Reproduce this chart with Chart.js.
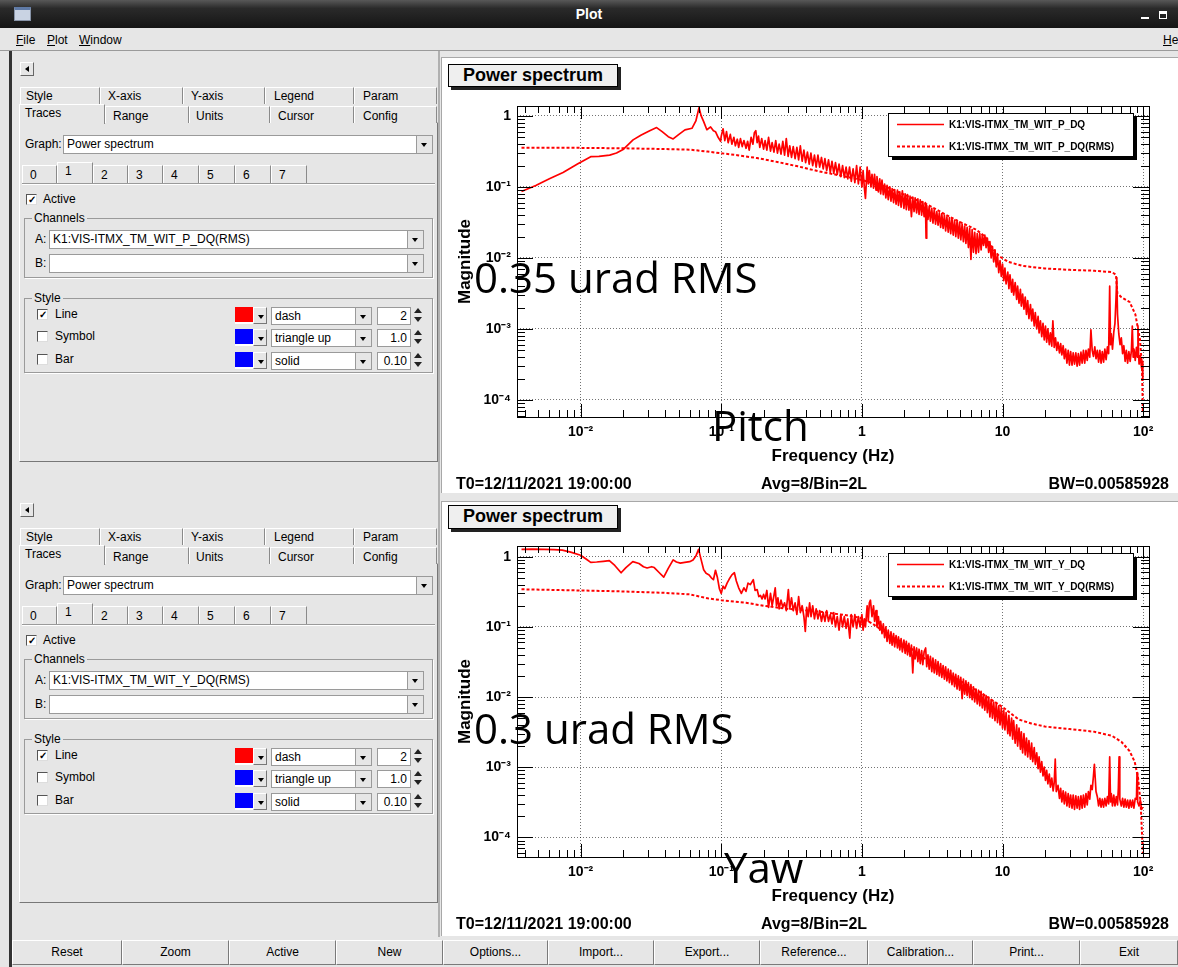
<!DOCTYPE html>
<html><head><meta charset="utf-8">
<script src="https://cdn.jsdelivr.net/npm/chart.js@4.4.0/dist/chart.umd.min.js"></script>
<style>
body{margin:0;width:1178px;height:967px;overflow:hidden;background:#e6e6e6;font-family:"Liberation Sans",Arial,sans-serif;font-size:12px;color:#000;position:relative}
.a{position:absolute;box-sizing:border-box;white-space:nowrap}
.titlebar{left:0;top:0;width:1178px;height:28px;background:linear-gradient(#585858,#2a2a2a 30%,#151515);color:#fff;font-weight:bold;font-size:14px;text-align:center;line-height:28px}
.menubar{left:0;top:28px;width:1178px;height:23px;border-bottom:1px solid #9a9a9a;line-height:24px}
.tab{height:18px;border-top:1px solid #fff;border-left:1px solid #fff;border-right:1px solid #8a8a8a;line-height:16px;background:#e6e6e6}
.combo{background:#fff;border:1px solid #9a9a9a;height:19px;line-height:17px;padding-left:3px}
.arr{position:absolute;right:0;top:0;width:15px;height:17px;background:#e6e6e6;border-left:1px solid #9a9a9a}
.arr::after{content:'';position:absolute;left:4px;top:7px;border-left:3px solid transparent;border-right:3px solid transparent;border-top:4px solid #000}
.cb{width:11px;height:11px;background:#fff;border:1px solid;border-color:#555 #ddd #ddd #555;font-size:10px;line-height:9px;text-align:center;font-weight:bold}
.grp{border:1px solid #9a9a9a;box-shadow:1px 1px 0 #fff}
.glab{background:#e6e6e6;padding:0 2px;line-height:12px}
.btn{top:940px;height:25px;border:1px solid;border-color:#fff #7a7a7a #7a7a7a #fff;text-align:center;line-height:23px;background:#e6e6e6}
.white{background:#fff;border-left:1px solid #a8a8a8;border-top:1px solid #a8a8a8}
.pave{background:#efefef;border:1px solid #000;box-shadow:3px 3px 0 #222;font-weight:bold;font-size:18px;line-height:21px;text-align:center}
.info{font-weight:bold;font-size:16px;line-height:18px}
.big{font-family:"Open Sans",sans-serif;font-size:42px;line-height:42px;z-index:5}
canvas{position:absolute}
</style></head>
<body>
<div class="a titlebar">Plot</div>
<div class="a" style="left:14px;top:7px;width:17px;height:14px;background:#c9d3e3;border:1px solid #8894a8;border-top:3px solid #5f7aa6"></div>
<div class="a" style="left:1141px;top:17px;width:8px;height:2px;background:#fff"></div>
<div class="a" style="left:1159px;top:11px;width:8px;height:8px;border:1px solid #fff;border-top:3px solid #fff"></div>
<div class="a menubar"><span class="a" style="left:16px"><u>F</u>ile</span><span class="a" style="left:47px"><u>P</u>lot</span><span class="a" style="left:79px"><u>W</u>indow</span><span class="a" style="left:1163px"><u>H</u>e</span></div>
<div class="a" style="left:9px;top:51px;width:3px;height:916px;background:#333"></div>
<div class="a" style="left:438px;top:51px;width:2px;height:886px;background:#b0b0b0"></div>

<div class="a white" style="left:441px;top:57px;width:737px;height:436px"></div>
<div class="a white" style="left:441px;top:501px;width:737px;height:435px"></div>
<div class="a pave" style="left:448px;top:64px;width:170px;height:23px">Power spectrum</div>
<div class="a pave" style="left:448px;top:505px;width:170px;height:24px">Power spectrum</div>

<canvas id="cP" width="736" height="430" style="left:442px;top:60px"></canvas>
<canvas id="cY" width="736" height="430" style="left:442px;top:500px"></canvas>

<div class="a info" style="left:456px;top:475px">T0=12/11/2021 19:00:00</div>
<div class="a info" style="left:761px;top:475px">Avg=8/Bin=2L</div>
<div class="a info" style="right:9px;top:475px">BW=0.00585928</div>
<div class="a info" style="left:456px;top:915px">T0=12/11/2021 19:00:00</div>
<div class="a info" style="left:761px;top:915px">Avg=8/Bin=2L</div>
<div class="a info" style="right:9px;top:915px">BW=0.00585928</div>

<div class="a big" style="left:474px;top:256px">0.35 urad RMS</div>
<div class="a big" style="left:712px;top:404px">Pitch</div>
<div class="a big" style="left:474px;top:707px">0.3 urad RMS</div>
<div class="a big" style="left:724px;top:846px">Yaw</div>

<div id="btns"></div>

<script>
// ---------------- data ----------------
const xTicks = [0.01, 0.1, 1, 10, 100];
const yTicks = [0.0001, 0.001, 0.01, 0.1, 1];
const xRange = [0.00353, 110];
const pitchYRange = [5.75e-5, 1.38];
const yawYRange = [5.25e-5, 1.42];
const pitchLabels = ['K1:VIS-ITMX_TM_WIT_P_DQ', 'K1:VIS-ITMX_TM_WIT_P_DQ(RMS)'];
const yawLabels = ['K1:VIS-ITMX_TM_WIT_Y_DQ', 'K1:VIS-ITMX_TM_WIT_Y_DQ(RMS)'];
const panelChannels = ['K1:VIS-ITMX_TM_WIT_P_DQ(RMS)', 'K1:VIS-ITMX_TM_WIT_Y_DQ(RMS)'];
const buttonLabels = ['Reset','Zoom','Active','New','Options...','Import...','Export...','Reference...','Calibration...','Print...','Exit'];

const pitchAsd = [
[0.0038,0.086],[0.0048,0.105],[0.006,0.13],[0.0075,0.16],[0.0095,0.21],[0.0118,0.267],[0.0135,0.27],[0.0161,0.28],[0.018,0.3],[0.0202,0.34],
[0.0236,0.46],[0.027,0.54],[0.031,0.62],[0.0347,0.685],[0.038,0.6],[0.042,0.51],[0.0455,0.474],[0.05,0.55],[0.0552,0.635],[0.0619,0.67],
[0.066,0.85],[0.0695,1.31],[0.072,1.0],[0.075,0.83],[0.079,0.64],[0.084,0.7],[0.088,0.62],[0.091,0.6],[0.095,0.5],[0.099,0.44],
[0.1,0.52],[0.103,0.66],[0.106,0.45],[0.109,0.6],[0.112,0.42],[0.116,0.55],[0.119,0.4],[0.123,0.5],[0.126,0.38],[0.13,0.47],
[0.133,0.36],[0.137,0.48],[0.141,0.37],[0.145,0.45],[0.15,0.35],[0.154,0.44],[0.158,0.33],[0.163,0.5],[0.168,0.4],[0.172,0.58],
[0.176,0.62],[0.18,0.42],[0.184,0.52],[0.188,0.36],[0.194,0.48],[0.2,0.34],[0.205,0.45],[0.211,0.33],[0.217,0.5],[0.224,0.32],
[0.23,0.42],[0.237,0.31],[0.244,0.45],[0.251,0.3],[0.258,0.4],[0.266,0.29],[0.274,0.44],[0.282,0.28],[0.29,0.48],[0.299,0.27],
[0.307,0.38],[0.316,0.26],[0.325,0.37],[0.335,0.25],[0.345,0.36],[0.355,0.24],[0.365,0.38],[0.376,0.23],[0.387,0.33],[0.398,0.22],
[0.41,0.31],[0.422,0.21],[0.434,0.3],[0.447,0.2],[0.46,0.28],[0.473,0.19],[0.487,0.28],[0.501,0.19],[0.516,0.26],[0.531,0.18],
[0.546,0.25],[0.562,0.17],[0.579,0.24],[0.596,0.16],[0.613,0.23],[0.631,0.155],[0.649,0.22],[0.668,0.15],[0.688,0.21],[0.708,0.14],
[0.729,0.2],[0.75,0.135],[0.772,0.19],[0.794,0.13],[0.817,0.19],[0.841,0.12],[0.866,0.18],[0.891,0.115],[0.917,0.2],[0.944,0.11],
[0.972,0.19],[1.0,0.1],[1.02,0.17],[1.04,0.1],[1.06,0.069],[1.09,0.19],[1.11,0.11],[1.13,0.17],[1.16,0.1],[1.18,0.15],
[1.21,0.096],[1.23,0.15],[1.26,0.09],[1.28,0.14],[1.31,0.085],[1.34,0.13],[1.36,0.08],[1.39,0.125],[1.42,0.078],[1.45,0.11],
[1.48,0.07],[1.51,0.105],[1.54,0.066],[1.58,0.1],[1.61,0.063],[1.64,0.095],[1.68,0.06],[1.71,0.092],[1.75,0.057],[1.79,0.09],
[1.82,0.055],[1.86,0.085],[1.9,0.052],[1.94,0.088],[1.99,0.05],[2.03,0.08],[2.07,0.048],[2.11,0.078],[2.16,0.047],[2.2,0.074],
[2.25,0.038],[2.3,0.072],[2.35,0.045],[2.39,0.07],[2.45,0.043],[2.5,0.068],[2.55,0.041],[2.6,0.066],[2.66,0.04],[2.71,0.062],
[2.77,0.038],[2.83,0.06],[2.86,0.019],[2.89,0.055],[2.95,0.035],[3.01,0.053],[3.07,0.033],[3.14,0.05],[3.2,0.031],[3.27,0.048],
[3.34,0.03],[3.41,0.045],[3.48,0.029],[3.55,0.043],[3.63,0.027],[3.7,0.042],[3.78,0.026],[3.86,0.04],[3.94,0.024],[4.02,0.038],
[4.11,0.023],[4.19,0.037],[4.28,0.022],[4.37,0.036],[4.46,0.021],[4.56,0.034],[4.65,0.02],[4.75,0.033],[4.85,0.019],[4.95,0.032],
[5.05,0.018],[5.16,0.03],[5.27,0.017],[5.38,0.028],[5.49,0.016],[5.6,0.027],[5.72,0.014],[5.84,0.026],[5.96,0.0095],[6.08,0.025],
[6.21,0.012],[6.34,0.023],[6.48,0.0115],[6.61,0.022],[6.75,0.012],[6.89,0.022],[7.04,0.013],[7.18,0.021],[7.33,0.015],[7.48,0.021],
[7.64,0.014],[7.8,0.019],[7.97,0.012],[8.13,0.017],[8.3,0.01],[8.48,0.0145],[8.65,0.0088],[8.84,0.013],[9.02,0.0075],[9.21,0.011],
[9.4,0.0062],[9.6,0.0092],[9.8,0.0055],[10.0,0.0082],[10.2,0.0048],[10.4,0.0072],[10.6,0.0043],[10.9,0.0063],[11.1,0.0037],[11.3,0.0058],
[11.6,0.0033],[11.8,0.005],[12.0,0.003],[12.3,0.0045],[12.6,0.0026],[12.8,0.004],[13.1,0.0023],[13.4,0.0036],[13.6,0.0021],[13.9,0.0031],
[14.2,0.0019],[14.5,0.0028],[14.8,0.0016],[15.1,0.0025],[15.4,0.0014],[15.8,0.0022],[16.1,0.0013],[16.4,0.0019],[16.8,0.0011],[17.1,0.0017],
[17.5,0.001],[17.9,0.0015],[18.2,0.00088],[18.6,0.0013],[19.0,0.00078],[19.4,0.0012],[19.8,0.0007],[20.2,0.0011],[20.6,0.00065],[21.0,0.001],
[21.5,0.0006],[21.9,0.00088],[22.4,0.00057],[22.8,0.0013],[23.3,0.00055],[23.8,0.00075],[24.3,0.0005],[24.8,0.00065],[25.4,0.00046],[25.9,0.00062],
[26.4,0.00043],[27.0,0.00058],[27.5,0.00038],[28.1,0.00052],[28.7,0.00033],[29.3,0.0005],[29.9,0.00031],[30.5,0.00048],[31.2,0.00031],[31.8,0.00046],
[32.5,0.00032],[33.2,0.00046],[33.9,0.0003],[34.6,0.00045],[35.3,0.00031],[36.1,0.00047],[36.8,0.00033],[37.6,0.0005],[38.4,0.00033],[39.2,0.0005],
[40.0,0.00036],[40.8,0.00052],[41.7,0.0004],[42.5,0.00097],[43.4,0.0005],[44.3,0.00041],[45.3,0.00056],[46.2,0.00038],[47.2,0.0005],[48.2,0.00034],
[49.2,0.0005],[50.2,0.00033],[51.2,0.00048],[52.3,0.00034],[53.4,0.00052],[54.5,0.00037],[55.7,0.00056],[56.8,0.00045],[57.8,0.004],[58.6,0.0006],
[59.3,0.00085],[60.5,0.00052],[61.8,0.0009],[63.0,0.0012],[64.0,0.0025],[64.9,0.0053],[65.7,0.0016],[67.1,0.00085],[68.5,0.0006],[69.9,0.00075],
[71.4,0.00045],[72.9,0.00058],[74.4,0.00035],[75.9,0.0005],[77.5,0.00033],[79.1,0.00048],[80.8,0.00035],[82.5,0.0005],[83.7,0.0011],[84.9,0.0004],
[86.0,0.00052],[87.8,0.00036],[89.6,0.00055],[91.0,0.0004],[91.8,0.0011],[92.7,0.00045],[93.5,0.00032],[95.4,0.00042],[97.4,0.00028],[98.5,0.00035],
[99.4,0.00019]
];

const pitchRms = [
[0.0038,0.355],[0.01,0.355],[0.02,0.35],[0.03,0.345],[0.045,0.34],[0.06,0.335],[0.08,0.315],[0.1,0.298],[0.13,0.28],[0.18,0.255],
[0.25,0.225],[0.35,0.195],[0.5,0.165],[0.7,0.145],[1.0,0.125],[1.5,0.1],[2.0,0.078],[3.0,0.055],[4.0,0.04],[5.0,0.032],
[6.5,0.025],[7.5,0.02],[8.5,0.0135],[9.5,0.0105],[11,0.0088],[14,0.0077],[20,0.0071],[30,0.0068],[45,0.0066],[60,0.0063],
[64,0.0058],[65.5,0.0032],[70,0.0028],[80,0.0024],[88,0.0016],[95,0.0007],[98,0.0003],[99.5,0.00007]
];

const yawAsd = [
[0.0038,1.27],[0.0045,1.28],[0.0055,1.27],[0.0065,1.26],[0.0074,1.24],[0.0085,1.16],[0.01,1.05],[0.011,0.92],[0.0118,0.83],[0.013,0.84],
[0.0145,0.86],[0.016,0.88],[0.0175,0.75],[0.0194,0.59],[0.021,0.7],[0.0235,0.85],[0.026,0.8],[0.028,0.72],[0.0297,0.69],[0.032,0.72],
[0.0334,0.7],[0.036,0.6],[0.039,0.51],[0.042,0.68],[0.0455,0.9],[0.048,0.84],[0.0512,0.81],[0.055,0.83],[0.0596,0.85],[0.063,0.9],
[0.066,1.02],[0.069,1.27],[0.072,0.9],[0.075,0.65],[0.078,0.58],[0.082,0.55],[0.085,0.5],[0.088,0.47],[0.091,0.64],[0.094,0.5],
[0.097,0.35],[0.1,0.3],[0.103,0.38],[0.106,0.35],[0.11,0.42],[0.114,0.48],[0.119,0.55],[0.124,0.59],[0.128,0.45],[0.133,0.36],
[0.139,0.3],[0.145,0.36],[0.15,0.32],[0.155,0.42],[0.161,0.4],[0.169,0.47],[0.174,0.33],[0.18,0.34],[0.185,0.27],[0.19,0.28],
[0.195,0.25],[0.2,0.29],[0.205,0.25],[0.211,0.33],[0.217,0.19],[0.224,0.3],[0.23,0.2],[0.237,0.28],[0.242,0.36],[0.247,0.2],
[0.253,0.26],[0.258,0.18],[0.266,0.24],[0.274,0.19],[0.282,0.22],[0.29,0.17],[0.3,0.34],[0.307,0.18],[0.316,0.26],[0.325,0.17],
[0.335,0.22],[0.345,0.15],[0.355,0.27],[0.365,0.16],[0.376,0.2],[0.387,0.14],[0.396,0.086],[0.405,0.19],[0.415,0.14],[0.425,0.22],
[0.435,0.14],[0.447,0.2],[0.46,0.13],[0.473,0.18],[0.487,0.13],[0.501,0.17],[0.516,0.12],[0.531,0.16],[0.546,0.12],[0.562,0.17],
[0.579,0.12],[0.596,0.15],[0.613,0.11],[0.631,0.16],[0.649,0.1],[0.668,0.14],[0.688,0.09],[0.708,0.15],[0.729,0.1],[0.75,0.14],
[0.772,0.095],[0.794,0.13],[0.82,0.069],[0.84,0.15],[0.866,0.1],[0.891,0.15],[0.917,0.095],[0.944,0.14],[0.972,0.1],[1.0,0.15],
[1.02,0.09],[1.04,0.13],[1.06,0.1],[1.09,0.2],[1.11,0.12],[1.13,0.22],[1.15,0.24],[1.18,0.14],[1.21,0.2],[1.23,0.12],
[1.26,0.17],[1.28,0.1],[1.31,0.14],[1.34,0.09],[1.36,0.12],[1.39,0.08],[1.42,0.11],[1.45,0.07],[1.48,0.1],[1.51,0.062],
[1.54,0.09],[1.58,0.058],[1.61,0.085],[1.64,0.055],[1.68,0.08],[1.71,0.052],[1.75,0.075],[1.79,0.05],[1.82,0.072],[1.86,0.047],
[1.9,0.068],[1.94,0.044],[1.99,0.065],[2.03,0.042],[2.07,0.062],[2.11,0.04],[2.16,0.058],[2.2,0.038],[2.25,0.055],[2.3,0.022],
[2.35,0.052],[2.39,0.035],[2.45,0.05],[2.5,0.032],[2.55,0.048],[2.6,0.03],[2.66,0.046],[2.71,0.029],[2.77,0.044],[2.84,0.05],
[2.89,0.027],[2.95,0.04],[3.01,0.025],[3.07,0.038],[3.14,0.023],[3.2,0.036],[3.27,0.022],[3.34,0.034],[3.41,0.021],[3.48,0.032],
[3.55,0.02],[3.63,0.03],[3.7,0.019],[3.78,0.028],[3.86,0.018],[3.94,0.027],[4.02,0.017],[4.11,0.025],[4.19,0.016],[4.28,0.024],
[4.37,0.015],[4.46,0.022],[4.56,0.014],[4.65,0.021],[4.75,0.013],[4.85,0.02],[4.95,0.0125],[5.05,0.019],[5.16,0.0095],[5.27,0.018],
[5.38,0.011],[5.49,0.017],[5.6,0.0105],[5.72,0.016],[5.84,0.0098],[5.96,0.015],[6.08,0.0092],[6.21,0.014],[6.34,0.0085],[6.48,0.013],
[6.61,0.008],[6.75,0.0125],[6.89,0.0075],[7.04,0.012],[7.18,0.007],[7.33,0.011],[7.48,0.0065],[7.64,0.0105],[7.8,0.006],[7.97,0.01],
[8.13,0.0052],[8.3,0.0092],[8.48,0.005],[8.65,0.0085],[8.84,0.0046],[9.02,0.008],[9.21,0.0043],[9.4,0.0075],[9.6,0.004],[9.8,0.007],
[10.0,0.0036],[10.2,0.0065],[10.4,0.0034],[10.6,0.006],[10.9,0.003],[11.1,0.0055],[11.3,0.0028],[11.6,0.005],[11.8,0.0025],[12.0,0.0046],
[12.3,0.0022],[12.6,0.004],[12.8,0.002],[13.1,0.0036],[13.4,0.0018],[13.6,0.0032],[13.9,0.0016],[14.2,0.003],[14.5,0.0015],[14.8,0.0026],
[15.1,0.0014],[15.4,0.0024],[15.8,0.0013],[16.1,0.0022],[16.4,0.0012],[16.8,0.0019],[17.1,0.0011],[17.5,0.0016],[17.9,0.00095],[18.2,0.0014],
[18.6,0.00085],[19.0,0.0012],[19.4,0.00075],[19.8,0.001],[20.2,0.00065],[20.6,0.0009],[21.0,0.00058],[21.5,0.0008],[21.9,0.00052],[22.4,0.0007],
[22.9,0.00046],[23.3,0.0006],[23.7,0.0013],[24.1,0.00045],[24.8,0.00055],[25.4,0.00036],[25.9,0.0005],[26.4,0.00032],[27.0,0.00046],[27.5,0.0003],
[28.1,0.00044],[28.7,0.00028],[29.3,0.00042],[29.9,0.00027],[30.5,0.0004],[31.2,0.00026],[31.8,0.0004],[32.5,0.00025],[33.2,0.00039],[33.9,0.00026],
[34.6,0.00038],[35.3,0.00025],[36.1,0.00039],[36.8,0.00026],[37.6,0.0004],[38.4,0.00027],[39.2,0.00042],[40.0,0.00029],[40.8,0.00045],[41.7,0.00035],
[42.5,0.00055],[43.4,0.00048],[44.3,0.00075],[45.0,0.0011],[45.6,0.0007],[46.2,0.00045],[47.2,0.00038],[48.2,0.00028],[49.2,0.00036],[50.2,0.00027],
[51.2,0.00035],[52.3,0.00027],[53.4,0.00036],[54.5,0.00028],[55.7,0.00038],[56.8,0.0003],[57.8,0.0014],[58.6,0.00032],[59.3,0.00042],[60.5,0.00028],
[61.8,0.0004],[63.0,0.00028],[64.4,0.00038],[65.7,0.00029],[66.6,0.0005],[67.4,0.0014],[68.2,0.00035],[69.9,0.00028],[71.4,0.00036],[72.9,0.00027],
[74.4,0.00035],[75.9,0.00027],[77.5,0.00034],[79.1,0.00026],[80.8,0.00034],[82.5,0.00027],[84.2,0.00034],[85.9,0.00026],[87.8,0.00036],[89.6,0.00035],
[90.4,0.00083],[91.3,0.00032],[93.4,0.00028],[95.4,0.00034],[97.4,0.00025],[99.4,0.00027]
];

const yawRms = [
[0.0038,0.343],[0.01,0.33],[0.02,0.32],[0.04,0.305],[0.06,0.29],[0.08,0.255],[0.1,0.24],[0.15,0.22],[0.2,0.2],[0.3,0.18],
[0.5,0.165],[0.8,0.145],[1.0,0.133],[1.2,0.11],[1.5,0.08],[2.0,0.058],[3.0,0.032],[4.0,0.022],[5.0,0.017],[7.0,0.0115],
[10,0.0072],[13,0.0048],[16,0.0042],[20,0.0038],[30,0.0035],[45,0.0032],[60,0.0028],[70,0.0023],[80,0.0017],[87,0.0012],
[92,0.0007],[96,0.0003],[99.5,0.00006]
];

// ---------------- left control panels ----------------
function panel(dy, chan){
  const d = document.createElement('div');
  d.className='a'; d.style.left='0px'; d.style.top=dy+'px'; d.style.width='440px'; d.style.height='441px';
  const tabs1 = [['Style',20,80,5],['X-axis',100,83,7],['Y-axis',183,82,7],['Legend',265,89,8],['Param',354,83,8]];
  const tabs2 = [['Range',105,84,7],['Units',189,81,6],['Cursor',270,84,7],['Config',354,83,8]];
  const nums = [[22,35],[57,36],[93,35],[128,35],[163,36],[199,36],[235,36],[271,36]];
  let h = '';
  h += `<div class="a" style="left:20px;top:62px;width:14px;height:14px;border:1px solid;border-color:#fff #666 #666 #fff"><div class="a" style="left:4px;top:3px;border-top:3px solid transparent;border-bottom:3px solid transparent;border-right:4px solid #000"></div></div>`;
  tabs1.forEach(t=>{ h += `<div class="a tab" style="left:${t[1]}px;top:87px;width:${t[2]}px;height:17px;padding-left:${t[3]}px">${t[0]}</div>`; });
  h += `<div class="a" style="left:19px;top:122px;width:419px;height:340px;border:1px solid;border-color:#fff #777 #777 #fff"></div>`;
  h += `<div class="a tab" style="left:19px;top:104px;width:86px;height:20px;padding-left:5px;border-bottom:none;line-height:16px">Traces</div>`;
  tabs2.forEach(t=>{ h += `<div class="a tab" style="left:${t[1]}px;top:106px;width:${t[2]}px;height:17px;padding-left:${t[3]}px;line-height:18px">${t[0]}</div>`; });
  h += `<div class="a" style="left:25px;top:137px">Graph:</div>`;
  h += `<div class="a combo" style="left:63px;top:135px;width:370px">Power spectrum<div class="arr"></div></div>`;
  nums.forEach((n,i)=>{
    const act = i===1;
    h += `<div class="a tab" style="left:${n[0]}px;top:${act?162:165}px;width:${n[1]}px;height:${act?22:18}px;padding-left:7px;line-height:${act?17:19}px">${i}</div>`;
  });
  h += `<div class="a" style="left:22px;top:183px;width:413px;height:2px;border-top:1px solid #9a9a9a;border-bottom:1px solid #fff"></div>`;
  h += `<div class="a cb" style="left:26px;top:194px">✓</div><div class="a" style="left:43px;top:192px">Active</div>`;
  h += `<div class="a grp" style="left:24px;top:218px;width:409px;height:60px"></div><div class="a glab" style="left:32px;top:212px">Channels</div>`;
  h += `<div class="a" style="left:35px;top:232px">A:</div><div class="a combo" style="left:49px;top:230px;width:375px">${chan}<div class="arr"></div></div>`;
  h += `<div class="a" style="left:35px;top:256px">B:</div><div class="a combo" style="left:49px;top:254px;width:375px"><div class="arr"></div></div>`;
  h += `<div class="a grp" style="left:24px;top:298px;width:409px;height:75px"></div><div class="a glab" style="left:32px;top:292px">Style</div>`;
  const rows = [['Line',315,true,'#ff0000','dash','2'],['Symbol',337,false,'#0000ff','triangle up','1.0'],['Bar',360,false,'#0000ff','solid','0.10']];
  rows.forEach(r=>{
    const y=r[1];
    h += `<div class="a cb" style="left:37px;top:${y-6}px">${r[2]?'✓':''}</div><div class="a" style="left:55px;top:${y-8}px">${r[0]}</div>`;
    h += `<div class="a" style="left:235px;top:${y-8}px;width:18px;height:17px;background:${r[3]};border-bottom:2px solid #fff"></div>`;
    h += `<div class="a" style="left:253px;top:${y-8}px;width:14px;height:17px;border:1px solid;border-color:#fff #777 #777 #fff"><div class="arr" style="border:none;width:12px;height:15px;background:none"></div></div>`;
    h += `<div class="a combo" style="left:271px;top:${y-8}px;width:101px;height:18px;line-height:16px">${r[4]}<div class="arr" style="height:16px"></div></div>`;
    h += `<div class="a combo" style="left:377px;top:${y-8}px;width:34px;height:18px;line-height:16px;text-align:right;padding-right:3px">${r[5]}</div>`;
    h += `<div class="a" style="left:414px;top:${y-7}px;border-left:4px solid transparent;border-right:4px solid transparent;border-bottom:5px solid #222"></div>`;
    h += `<div class="a" style="left:414px;top:${y+2}px;border-left:4px solid transparent;border-right:4px solid transparent;border-top:5px solid #222"></div>`;
  });
  d.innerHTML = h;
  document.body.appendChild(d);
}
panel(0, panelChannels[0]);
panel(441, panelChannels[1]);

// bottom button row
(function(){
  const edges=[12,122,229,336,443,548,654,760,868,973,1080,1178];
  let h='';
  buttonLabels.forEach((b,i)=>{ h += `<div class="a btn" style="left:${edges[i]}px;width:${edges[i+1]-edges[i]}px">${b}</div>`; });
  document.getElementById('btns').innerHTML=h;
})();

// ---------------- charts ----------------
Chart.defaults.font.family = '"Liberation Sans", Arial, sans-serif';
const sup = {'-4':'⁻⁴','-3':'⁻³','-2':'⁻²','-1':'⁻¹','2':'²'};
function tickLabel(v){
  const e = Math.round(Math.log10(v));
  if (e===0) return '1';
  if (e===1) return '10';
  return '10' + sup[String(e)];
}

const rootFrame = {
  id:'rootFrame',
  afterDraw(chart){
    const {ctx, chartArea:a, scales:{x, y}} = chart;
    ctx.save();
    ctx.strokeStyle='#000'; ctx.lineWidth=1; ctx.setLineDash([]);
    ctx.beginPath();
    for (let e=-3; e<=2; e++) for (let k=1; k<10; k++){
      const v = k*Math.pow(10,e);
      if (v < x.min || v > x.max) continue;
      const px = Math.round(x.getPixelForValue(v)) + 0.5;
      const L = k===1 ? 13 : 7;
      ctx.moveTo(px, a.bottom); ctx.lineTo(px, a.bottom - L);
      ctx.moveTo(px, a.top); ctx.lineTo(px, a.top + L);
    }
    for (let e=-5; e<=0; e++) for (let k=1; k<10; k++){
      const v = k*Math.pow(10,e);
      if (v < y.min || v > y.max) continue;
      const py = Math.round(y.getPixelForValue(v)) + 0.5;
      const L = k===1 ? 16 : 8;
      ctx.moveTo(a.left, py); ctx.lineTo(a.left + L, py);
      ctx.moveTo(a.right, py); ctx.lineTo(a.right - L, py);
    }
    ctx.stroke();
    ctx.strokeRect(Math.round(a.left)+0.5, Math.round(a.top)+0.5, Math.round(a.right-a.left), Math.round(a.bottom-a.top));
    ctx.restore();
  }
};

const boxLegend = {
  id:'boxLegend',
  afterDraw(chart){
    const {ctx, chartArea:a} = chart;
    const w=245, h=43, bx=Math.round(a.right)-16-w, by=Math.round(a.top)+7;
    ctx.save();
    ctx.fillStyle='#000'; ctx.fillRect(bx+4, by+4, w, h);
    ctx.fillStyle='#fff'; ctx.fillRect(bx, by, w, h);
    ctx.strokeStyle='#000'; ctx.lineWidth=1; ctx.strokeRect(bx+0.5, by+0.5, w, h);
    chart.data.datasets.forEach((ds,i)=>{
      const yy = by + 11 + i*22;
      ctx.strokeStyle = ds.borderColor; ctx.lineWidth = ds.legendWidth; ctx.setLineDash(ds.borderDash || []);
      ctx.beginPath(); ctx.moveTo(bx+9, yy+0.5); ctx.lineTo(bx+56, yy+0.5); ctx.stroke();
      ctx.setLineDash([]);
      ctx.fillStyle='#000'; ctx.font='bold 10px "Liberation Sans", Arial, sans-serif'; ctx.textBaseline='middle';
      ctx.fillText(ds.label, bx+61, yy+1);
    });
    ctx.restore();
  }
};

function makePlot(id, asd, rms, labels, yr){
  return new Chart(document.getElementById(id), {
    type:'line',
    data:{datasets:[
      {label:labels[0], data:asd.map(p=>({x:p[0], y:p[1]})), borderColor:'#ff0000', borderWidth:1.7, legendWidth:1.5, pointRadius:0, tension:0, fill:false, borderJoinStyle:'round'},
      {label:labels[1], data:rms.map(p=>({x:p[0], y:p[1]})), borderColor:'#ff0000', borderWidth:2, legendWidth:2, borderDash:[3,2], pointRadius:0, tension:0, fill:false}
    ]},
    options:{
      responsive:false, animation:false, events:[],
      layout:{padding:{left:0, right:29, top:46, bottom:0}},
      plugins:{legend:{display:false}, tooltip:{enabled:false}},
      scales:{
        x:{type:'logarithmic', min:xRange[0], max:xRange[1],
           afterBuildTicks:s=>{ s.ticks = xTicks.map(v=>({value:v})); },
           afterFit:s=>{ s.height = 73; },
           ticks:{callback:v=>tickLabel(v), font:{size:14, weight:'bold'}, color:'#000', padding:7, maxRotation:0, autoSkip:false},
           grid:{color:'rgba(0,0,0,0.55)', lineWidth:1, drawTicks:false},
           border:{display:false, dash:[1,2]},
           title:{display:true, text:'Frequency (Hz)', color:'#000', font:{size:17, weight:'bold'}, padding:{top:0, bottom:23}}},
        y:{type:'logarithmic', min:yr[0], max:yr[1],
           afterBuildTicks:s=>{ s.ticks = yTicks.map(v=>({value:v})); },
           afterFit:s=>{ s.width = 75; },
           ticks:{callback:v=>tickLabel(v), font:{size:14, weight:'bold'}, color:'#000', padding:6, autoSkip:false},
           grid:{color:'rgba(0,0,0,0.55)', lineWidth:1, drawTicks:false},
           border:{display:false, dash:[1,2]},
           title:{display:true, text:'Magnitude', color:'#000', font:{size:17, weight:'bold'}, padding:{top:13, bottom:0}}}
      }
    },
    plugins:[rootFrame, boxLegend]
  });
}
makePlot('cP', pitchAsd, pitchRms, pitchLabels, pitchYRange);
makePlot('cY', yawAsd, yawRms, yawLabels, yawYRange);
</script>
</body></html>
